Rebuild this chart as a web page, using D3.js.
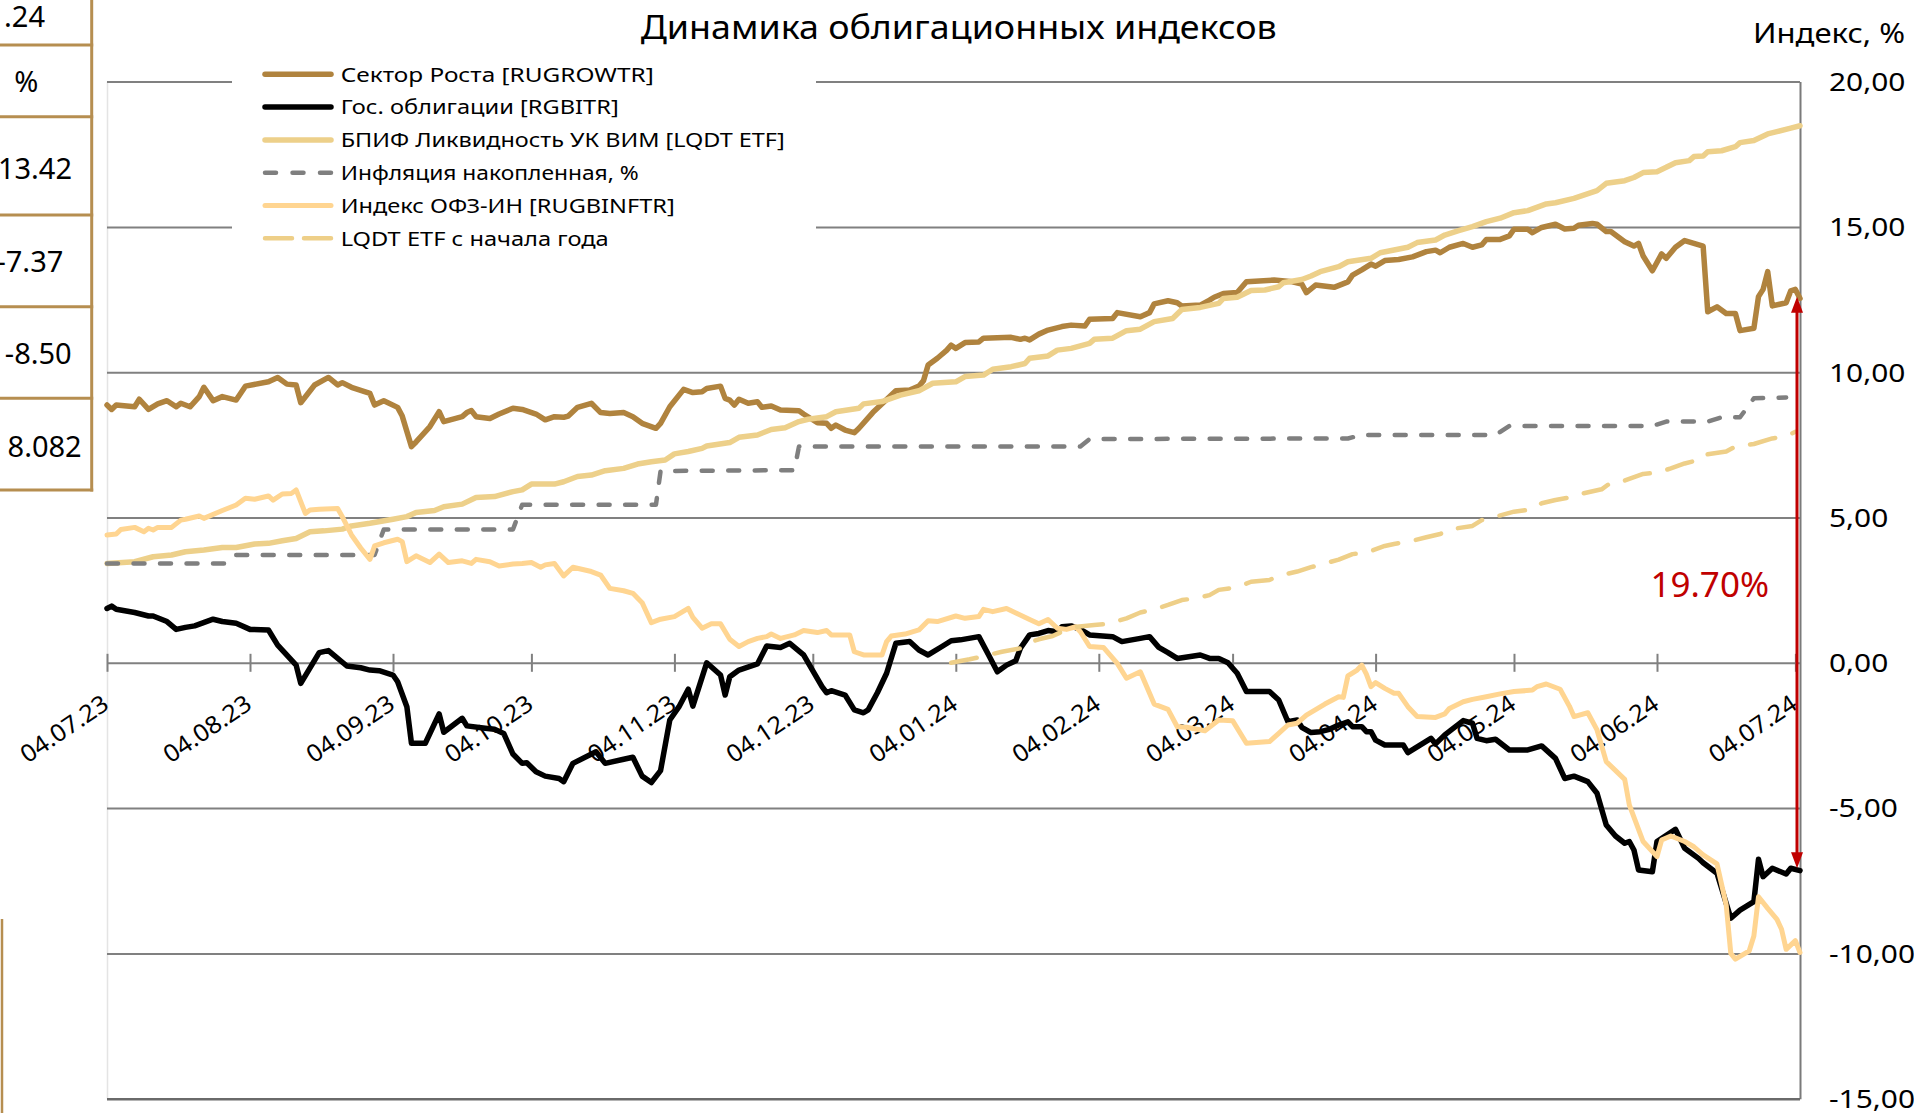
<!DOCTYPE html>
<html><head><meta charset="utf-8">
<script src="https://cdn.jsdelivr.net/npm/d3@7"></script>
<style>
html,body{margin:0;padding:0;background:#fff;overflow:hidden;}
svg{display:block;}
text{font-family:"Noto Sans",sans-serif;}
</style></head><body>
<svg id="chart" width="1914" height="1113"></svg>
<script>
// ---------------- DATA ----------------
const chartTitle = "Динамика облигационных индексов";
const yAxisTitle = "Индекс, %";
const xDomain = ["04.07.23", "05.07.24"];
const xTickLabels = ["04.07.23","04.08.23","04.09.23","04.10.23","04.11.23","04.12.23","04.01.24","04.02.24","04.03.24","04.04.24","04.05.24","04.06.24","04.07.24"];
const yTickValues = [-15, -10, -5, 0, 5, 10, 15, 20];
const seriesNames = ["Сектор Роста [RUGROWTR]", "Гос. облигации [RGBITR]", "БПИФ Ликвидность УК ВИМ [LQDT ETF]", "Инфляция накопленная, %", "Индекс ОФЗ-ИН [RUGBINFTR]", "LQDT ETF с начала года"];

const sectorGrowth = [["04.07.23",8.87],["05.07.23",8.72],["06.07.23",8.87],["10.07.23",8.81],["11.07.23",9.07],["13.07.23",8.72],["15.07.23",8.91],["17.07.23",9.02],["19.07.23",8.81],["20.07.23",8.93],["22.07.23",8.81],["24.07.23",9.16],["25.07.23",9.48],["27.07.23",9.02],["29.07.23",9.16],["01.08.23",9.04],["03.08.23",9.52],["08.08.23",9.67],["10.08.23",9.82],["12.08.23",9.59],["14.08.23",9.56],["15.08.23",8.95],["18.08.23",9.56],["21.08.23",9.82],["23.08.23",9.56],["24.08.23",9.64],["26.08.23",9.48],["30.08.23",9.27],["31.08.23",8.87],["02.09.23",9.02],["05.09.23",8.79],["06.09.23",8.49],["08.09.23",7.44],["09.09.23",7.60],["12.09.23",8.13],["14.09.23",8.64],["15.09.23",8.30],["19.09.23",8.47],["20.09.23",8.61],["21.09.23",8.68],["22.09.23",8.47],["25.09.23",8.41],["27.09.23",8.56],["30.09.23",8.76],["02.10.23",8.72],["05.10.23",8.56],["07.10.23",8.36],["09.10.23",8.47],["11.10.23",8.45],["12.10.23",8.49],["14.10.23",8.79],["17.10.23",8.93],["19.10.23",8.61],["21.10.23",8.58],["24.10.23",8.61],["26.10.23",8.47],["28.10.23",8.24],["31.10.23",8.07],["01.11.23",8.24],["03.11.23",8.81],["06.11.23",9.41],["08.11.23",9.30],["10.11.23",9.33],["11.11.23",9.44],["14.11.23",9.52],["15.11.23",9.10],["16.11.23",9.04],["17.11.23",8.87],["18.11.23",9.07],["20.11.23",8.93],["22.11.23",8.98],["23.11.23",8.79],["25.11.23",8.84],["27.11.23",8.70],["01.12.23",8.67],["02.12.23",8.56],["05.12.23",8.26],["07.12.23",8.24],["08.12.23",8.07],["09.12.23",8.18],["11.12.23",8.01],["13.12.23",7.92],["14.12.23",8.07],["17.12.23",8.61],["22.12.23",9.36],["25.12.23",9.39],["27.12.23",9.52],["28.12.23",9.71],["29.12.23",10.25],["31.12.23",10.48],["02.01.24",10.75],["03.01.24",10.93],["04.01.24",10.82],["06.01.24",11.02],["09.01.24",11.04],["10.01.24",11.17],["16.01.24",11.20],["18.01.24",11.13],["19.01.24",11.17],["20.01.24",11.11],["22.01.24",11.31],["24.01.24",11.45],["27.01.24",11.57],["29.01.24",11.62],["01.02.24",11.59],["02.02.24",11.82],["07.02.24",11.85],["08.02.24",12.05],["13.02.24",11.91],["15.02.24",12.05],["16.02.24",12.35],["19.02.24",12.46],["21.02.24",12.39],["22.02.24",12.28],["26.02.24",12.31],["28.02.24",12.48],["29.02.24",12.58],["02.03.24",12.71],["05.03.24",12.74],["07.03.24",13.11],["13.03.24",13.17],["17.03.24",13.11],["19.03.24",13.03],["20.03.24",12.74],["22.03.24",13.00],["26.03.24",12.92],["29.03.24",13.11],["30.03.24",13.34],["01.04.24",13.52],["03.04.24",13.72],["04.04.24",13.65],["06.04.24",13.84],["09.04.24",13.88],["12.04.24",13.97],["15.04.24",14.15],["17.04.24",14.20],["18.04.24",14.11],["20.04.24",14.30],["23.04.24",14.43],["25.04.24",14.30],["27.04.24",14.38],["28.04.24",14.57],["01.05.24",14.57],["03.05.24",14.69],["04.05.24",14.92],["07.05.24",14.92],["08.05.24",14.80],["10.05.24",14.98],["13.05.24",15.09],["15.05.24",14.93],["17.05.24",14.95],["18.05.24",15.06],["21.05.24",15.12],["22.05.24",15.09],["24.05.24",14.84],["25.05.24",14.84],["28.05.24",14.49],["30.05.24",14.34],["31.05.24",14.43],["01.06.24",14.00],["03.06.24",13.49],["05.06.24",14.07],["06.06.24",13.92],["08.06.24",14.30],["10.06.24",14.53],["14.06.24",14.34],["15.06.24",12.08],["17.06.24",12.25],["19.06.24",12.02],["21.06.24",12.02],["22.06.24",11.43],["25.06.24",11.51],["26.06.24",12.60],["27.06.24",12.85],["28.06.24",13.46],["29.06.24",12.28],["02.07.24",12.39],["03.07.24",12.80],["04.07.24",12.85],["05.07.24",12.54]];

const govBonds = [["04.07.23",1.87],["05.07.23",1.95],["06.07.23",1.84],["10.07.23",1.73],["13.07.23",1.61],["14.07.23",1.61],["17.07.23",1.42],["19.07.23",1.15],["21.07.23",1.22],["23.07.23",1.27],["27.07.23",1.50],["29.07.23",1.42],["01.08.23",1.36],["04.08.23",1.15],["08.08.23",1.13],["10.08.23",0.61],["14.08.23",-0.08],["15.08.23",-0.71],["19.08.23",0.35],["21.08.23",0.42],["25.08.23",-0.11],["28.08.23",-0.17],["30.08.23",-0.25],["01.09.23",-0.27],["04.09.23",-0.42],["05.09.23",-0.65],["07.09.23",-1.51],["08.09.23",-2.77],["11.09.23",-2.77],["14.09.23",-1.76],["15.09.23",-2.39],["19.09.23",-1.91],["20.09.23",-2.17],["24.09.23",-2.25],["26.09.23",-2.29],["28.09.23",-2.43],["30.09.23",-3.14],["02.10.23",-3.46],["03.10.23",-3.44],["05.10.23",-3.75],["07.10.23",-3.90],["10.10.23",-3.98],["11.10.23",-4.09],["13.10.23",-3.46],["18.10.23",-3.06],["20.10.23",-3.46],["24.10.23",-3.32],["26.10.23",-3.25],["28.10.23",-3.90],["30.10.23",-4.12],["01.11.23",-3.71],["03.11.23",-1.97],["05.11.23",-1.51],["07.11.23",-0.91],["08.11.23",-1.49],["11.11.23",0.00],["14.11.23",-0.42],["15.11.23",-1.11],["16.11.23",-0.48],["18.11.23",-0.25],["22.11.23",-0.04],["24.11.23",0.58],["27.11.23",0.53],["29.11.23",0.67],["02.12.23",0.27],["06.12.23",-0.82],["07.12.23",-1.03],["08.12.23",-0.96],["11.12.23",-1.11],["13.12.23",-1.62],["15.12.23",-1.72],["16.12.23",-1.62],["18.12.23",-1.03],["20.12.23",-0.36],["22.12.23",0.67],["25.12.23",0.73],["27.12.23",0.44],["29.12.23",0.27],["01.01.24",0.56],["03.01.24",0.76],["05.01.24",0.79],["09.01.24",0.90],["11.01.24",0.30],["13.01.24",-0.31],["15.01.24",-0.08],["17.01.24",0.07],["18.01.24",0.50],["20.01.24",0.96],["22.01.24",1.01],["24.01.24",1.11],["26.01.24",1.07],["27.01.24",1.24],["29.01.24",1.27],["31.01.24",1.15],["02.02.24",0.96],["07.02.24",0.90],["09.02.24",0.73],["13.02.24",0.84],["15.02.24",0.90],["17.02.24",0.53],["19.02.24",0.35],["21.02.24",0.15],["26.02.24",0.27],["28.02.24",0.15],["01.03.24",0.15],["03.03.24",0.00],["05.03.24",-0.36],["07.03.24",-0.99],["12.03.24",-0.99],["14.03.24",-1.28],["16.03.24",-2.03],["18.03.24",-1.97],["19.03.24",-2.22],["21.03.24",-2.40],["23.03.24",-2.37],["25.03.24",-2.29],["27.03.24",-2.14],["29.03.24",-2.03],["30.03.24",-2.20],["01.04.24",-2.20],["02.04.24",-2.37],["03.04.24",-2.37],["04.04.24",-2.66],["06.04.24",-2.83],["10.04.24",-2.83],["11.04.24",-3.09],["16.04.24",-2.60],["17.04.24",-2.79],["19.04.24",-2.48],["23.04.24",-1.99],["25.04.24",-2.08],["26.04.24",-2.60],["28.04.24",-2.68],["30.04.24",-2.63],["03.05.24",-3.00],["07.05.24",-3.00],["10.05.24",-2.86],["13.05.24",-3.29],["15.05.24",-3.98],["17.05.24",-3.90],["20.05.24",-4.09],["22.05.24",-4.49],["24.05.24",-5.58],["26.05.24",-5.96],["28.05.24",-6.21],["29.05.24",-6.15],["30.05.24",-6.44],["31.05.24",-7.13],["03.06.24",-7.19],["04.06.24",-6.15],["08.06.24",-5.73],["10.06.24",-6.38],["13.06.24",-6.73],["14.06.24",-6.88],["17.06.24",-7.24],["20.06.24",-8.79],["22.06.24",-8.51],["25.06.24",-8.22],["26.06.24",-6.76],["27.06.24",-7.36],["29.06.24",-7.07],["02.07.24",-7.27],["03.07.24",-7.07],["05.07.24",-7.15]];

const lqdtEtf = [["04.07.23",3.42],["10.07.23",3.48],["14.07.23",3.65],["18.07.23",3.71],["21.07.23",3.82],["25.07.23",3.88],["29.07.23",3.97],["01.08.23",3.97],["05.08.23",4.09],["08.08.23",4.11],["11.08.23",4.20],["14.08.23",4.28],["17.08.23",4.51],["20.08.23",4.54],["24.08.23",4.60],["26.08.23",4.71],["30.08.23",4.80],["04.09.23",4.94],["07.09.23",5.03],["09.09.23",5.17],["13.09.23",5.24],["15.09.23",5.37],["19.09.23",5.46],["22.09.23",5.69],["26.09.23",5.72],["30.09.23",5.89],["02.10.23",5.95],["04.10.23",6.15],["09.10.23",6.15],["11.10.23",6.23],["14.10.23",6.41],["17.10.23",6.46],["20.10.23",6.61],["24.10.23",6.69],["27.10.23",6.84],["30.10.23",6.92],["02.11.23",6.98],["04.11.23",7.19],["07.11.23",7.27],["10.11.23",7.38],["11.11.23",7.46],["16.11.23",7.58],["18.11.23",7.76],["22.11.23",7.84],["25.11.23",8.03],["28.11.23",8.09],["01.12.23",8.30],["03.12.23",8.38],["07.12.23",8.47],["09.12.23",8.64],["14.12.23",8.76],["15.12.23",8.91],["19.12.23",8.99],["23.12.23",9.21],["27.12.23",9.36],["30.12.23",9.62],["04.01.24",9.67],["06.01.24",9.85],["10.01.24",9.90],["12.01.24",10.10],["16.01.24",10.19],["19.01.24",10.30],["20.01.24",10.48],["24.01.24",10.56],["26.01.24",10.76],["29.01.24",10.82],["02.02.24",10.99],["03.02.24",11.13],["07.02.24",11.17],["10.02.24",11.43],["13.02.24",11.48],["16.02.24",11.74],["20.02.24",11.85],["22.02.24",12.16],["26.02.24",12.23],["01.03.24",12.37],["02.03.24",12.54],["05.03.24",12.58],["08.03.24",12.81],["11.03.24",12.83],["14.03.24",12.94],["15.03.24",13.08],["19.03.24",13.19],["21.03.24",13.31],["23.03.24",13.46],["27.03.24",13.63],["29.03.24",13.80],["03.04.24",13.92],["05.04.24",14.11],["11.04.24",14.30],["13.04.24",14.46],["17.04.24",14.55],["19.04.24",14.72],["22.04.24",14.87],["25.04.24",15.01],["28.04.24",15.18],["01.05.24",15.30],["04.05.24",15.49],["07.05.24",15.56],["11.05.24",15.79],["13.05.24",15.83],["17.05.24",15.98],["22.05.24",16.25],["24.05.24",16.50],["28.05.24",16.59],["30.05.24",16.70],["01.06.24",16.87],["04.06.24",16.90],["06.06.24",17.05],["08.06.24",17.21],["11.06.24",17.28],["12.06.24",17.42],["14.06.24",17.44],["15.06.24",17.59],["18.06.24",17.62],["21.06.24",17.76],["22.06.24",17.90],["25.06.24",17.97],["28.06.24",18.20],["30.06.24",18.28],["03.07.24",18.40],["05.07.24",18.48]];

const inflationCum = [["04.07.23",3.42],["30.07.23",3.42],["01.08.23",3.71],["31.08.23",3.71],["02.09.23",4.59],["30.09.23",4.59],["02.10.23",5.44],["31.10.23",5.44],["01.11.23",6.60],["30.11.23",6.63],["01.12.23",7.44],["31.01.24",7.44],["02.02.24",7.70],["29.03.24",7.72],["01.04.24",7.84],["30.04.24",7.84],["03.05.24",8.15],["03.06.24",8.15],["06.06.24",8.30],["15.06.24",8.30],["18.06.24",8.45],["22.06.24",8.45],["25.06.24",9.10],["02.07.24",9.13]];

const ofzIn = [["04.07.23",4.40],["06.07.23",4.43],["07.07.23",4.59],["10.07.23",4.66],["12.07.23",4.51],["13.07.23",4.63],["14.07.23",4.57],["15.07.23",4.66],["18.07.23",4.66],["20.07.23",4.91],["21.07.23",4.94],["24.07.23",5.05],["25.07.23",4.97],["29.07.23",5.24],["01.08.23",5.43],["03.08.23",5.66],["05.08.23",5.63],["08.08.23",5.74],["09.08.23",5.60],["11.08.23",5.81],["13.08.23",5.83],["14.08.23",5.95],["16.08.23",5.14],["17.08.23",5.26],["19.08.23",5.28],["23.08.23",5.31],["24.08.23",5.03],["26.08.23",4.40],["28.08.23",3.95],["30.08.23",3.56],["31.08.23",4.02],["02.09.23",4.13],["05.09.23",4.25],["06.09.23",4.17],["07.09.23",3.48],["09.09.23",3.68],["12.09.23",3.45],["14.09.23",3.74],["16.09.23",3.45],["19.09.23",3.51],["21.09.23",3.42],["22.09.23",3.56],["25.09.23",3.48],["27.09.23",3.33],["30.09.23",3.40],["02.10.23",3.42],["04.10.23",3.45],["06.10.23",3.29],["07.10.23",3.37],["09.10.23",3.42],["11.10.23",2.99],["13.10.23",3.29],["17.10.23",3.14],["19.10.23",3.02],["21.10.23",2.56],["24.10.23",2.48],["26.10.23",2.39],["28.10.23",2.07],["30.10.23",1.38],["01.11.23",1.50],["04.11.23",1.59],["07.11.23",1.87],["08.11.23",1.56],["10.11.23",1.19],["12.11.23",1.34],["14.11.23",1.34],["16.11.23",0.81],["18.11.23",0.56],["20.11.23",0.73],["22.11.23",0.84],["24.11.23",0.90],["25.11.23",0.99],["27.11.23",0.84],["30.11.23",0.96],["02.12.23",1.11],["05.12.23",1.04],["07.12.23",1.11],["08.12.23",0.96],["12.12.23",0.96],["13.12.23",0.38],["15.12.23",0.27],["19.12.23",0.27],["20.12.23",0.73],["21.12.23",0.92],["24.12.23",0.99],["27.12.23",1.13],["29.12.23",1.45],["31.12.23",1.42],["04.01.24",1.61],["06.01.24",1.53],["09.01.24",1.59],["10.01.24",1.84],["12.01.24",1.76],["15.01.24",1.87],["20.01.24",1.49],["22.01.24",1.34],["24.01.24",1.49],["26.01.24",1.19],["28.01.24",1.15],["30.01.24",1.24],["31.01.24",1.07],["02.02.24",0.56],["05.02.24",0.53],["08.02.24",-0.02],["10.02.24",-0.53],["13.02.24",-0.31],["16.02.24",-1.42],["19.02.24",-1.60],["21.02.24",-2.20],["23.02.24",-2.22],["27.02.24",-2.34],["01.03.24",-1.97],["04.03.24",-1.99],["07.03.24",-2.77],["12.03.24",-2.71],["14.03.24",-2.43],["16.03.24",-2.14],["18.03.24",-2.08],["20.03.24",-1.80],["24.03.24",-1.42],["27.03.24",-1.17],["28.03.24",-1.19],["29.03.24",-0.45],["31.03.24",-0.25],["01.04.24",-0.08],["02.04.24",-0.39],["03.04.24",-0.82],["04.04.24",-0.68],["06.04.24",-0.88],["08.04.24",-1.05],["09.04.24",-1.05],["11.04.24",-1.51],["13.04.24",-1.85],["17.04.24",-1.88],["19.04.24",-1.76],["20.04.24",-1.57],["23.04.24",-1.34],["25.04.24",-1.26],["28.04.24",-1.17],["01.05.24",-1.07],["04.05.24",-0.99],["08.05.24",-0.94],["09.05.24",-0.82],["11.05.24",-0.73],["14.05.24",-0.91],["16.05.24",-1.49],["17.05.24",-1.85],["20.05.24",-1.72],["22.05.24",-2.31],["24.05.24",-3.40],["28.05.24",-4.01],["29.05.24",-4.89],["01.06.24",-6.15],["04.06.24",-6.67],["05.06.24",-6.10],["07.06.24",-5.96],["10.06.24",-6.15],["12.06.24",-6.33],["14.06.24",-6.61],["17.06.24",-6.92],["19.06.24",-8.33],["20.06.24",-10.00],["21.06.24",-10.20],["24.06.24",-9.91],["25.06.24",-9.40],["26.06.24",-8.05],["28.06.24",-8.45],["30.06.24",-8.83],["01.07.24",-9.17],["02.07.24",-9.86],["04.07.24",-9.56],["05.07.24",-9.97]];

const lqdtYtd = [["03.01.24",0.00],["07.01.24",0.12],["10.01.24",0.23],["14.01.24",0.38],["18.01.24",0.50],["19.01.24",0.65],["22.01.24",0.81],["25.01.24",0.92],["27.01.24",1.07],["30.01.24",1.24],["03.02.24",1.30],["06.02.24",1.34],["10.02.24",1.53],["13.02.24",1.73],["16.02.24",1.84],["19.02.24",1.99],["22.02.24",2.16],["25.02.24",2.22],["28.02.24",2.33],["01.03.24",2.51],["05.03.24",2.60],["08.03.24",2.79],["12.03.24",2.85],["14.03.24",2.99],["18.03.24",3.14],["21.03.24",3.29],["24.03.24",3.42],["27.03.24",3.55],["30.03.24",3.74],["02.04.24",3.79],["06.04.24",4.02],["08.04.24",4.09],["12.04.24",4.20],["15.04.24",4.32],["18.04.24",4.43],["20.04.24",4.59],["25.04.24",4.71],["27.04.24",4.91],["30.04.24",5.03],["04.05.24",5.20],["08.05.24",5.28],["10.05.24",5.49],["13.05.24",5.60],["17.05.24",5.72],["19.05.24",5.83],["23.05.24",5.97],["25.05.24",6.20],["28.05.24",6.27],["01.06.24",6.50],["04.06.24",6.54],["07.06.24",6.69],["10.06.24",6.86],["13.06.24",6.98],["14.06.24",7.15],["19.06.24",7.27],["21.06.24",7.44],["25.06.24",7.53],["29.06.24",7.72],["02.07.24",7.80],["04.07.24",7.95]];

const spreadAnnotation = {date: "05.07.24", top: 12.6, bottom: -7.07, label: "19.70%"};
const sideTableValues = [".24", "%", "13.42", "-7.37", "-8.50", "8.082"];

// ---------------- CHART ----------------
const svg = d3.select("#chart");
const parse = d3.timeParse("%d.%m.%y");
const P = {left: 107, right: 1800, top: 81.6, bottom: 1098.7};
const x = d3.scaleTime().domain(xDomain.map(parse)).range([P.left, P.right]);
const y = d3.scaleLinear().domain([-15, 20]).range([P.bottom, P.top]);

function stretch(sel, k) {
  sel.each(function () {
    const w = this.getComputedTextLength();
    d3.select(this).attr("textLength", w * k).attr("lengthAdjust", "spacingAndGlyphs");
  });
}

const GRID = "#808080";

// faint left plot border
svg.append("line").attr("x1", P.left + 0.5).attr("x2", P.left + 0.5)
  .attr("y1", P.top).attr("y2", P.bottom).attr("stroke", "#e4e4e4").attr("stroke-width", 1.5);

// gridlines + right axis
const yAxis = d3.axisRight(y).tickValues(yTickValues)
  .tickSizeInner(-(P.right - P.left)).tickSizeOuter(0).tickPadding(29)
  .tickFormat(d => d.toFixed(2).replace(".", ","));
const gy = svg.append("g").attr("transform", `translate(${P.right},0)`).call(yAxis);
gy.select(".domain").attr("stroke", "#7a7a7a").attr("stroke-width", 2);
gy.selectAll(".tick line").attr("stroke", GRID).attr("stroke-width", 2);
gy.selectAll(".tick").filter(d => d === -15).select("line").attr("stroke", "#6a6a6a").attr("stroke-width", 2.5);
const yl = gy.selectAll(".tick text").attr("fill", "#000").attr("font-size", 24.5)
  .attr("font-family", "Noto Sans").attr("text-anchor", "start").attr("dy", "0.36em");
stretch(yl, 1.22);

// x axis
const xAxis = d3.axisBottom(x).tickValues(xTickLabels.map(parse)).tickSize(9)
  .tickFormat(d3.timeFormat("%d.%m.%y"));
const gx = svg.append("g").attr("transform", `translate(0,${y(0)})`).call(xAxis);
gx.select(".domain").remove();
gx.selectAll(".tick line").attr("y1", -9).attr("y2", 9).attr("stroke", GRID).attr("stroke-width", 2);
const xl = gx.selectAll(".tick text").attr("fill", "#000").attr("font-size", 24)
  .attr("font-family", "Noto Sans").attr("x", 0).attr("y", 0).attr("dy", null)
  .attr("text-anchor", "end").attr("transform", "translate(3,45) rotate(-34)");
stretch(xl, 1.05);

// legend
const series = [
  {name: seriesNames[0], data: sectorGrowth, color: "#B0833E", width: 5.5, dash: null},
  {name: seriesNames[1], data: govBonds, color: "#000000", width: 5.5, dash: null},
  {name: seriesNames[2], data: lqdtEtf, color: "#EDD08A", width: 5.5, dash: null},
  {name: seriesNames[3], data: inflationCum, color: "#7F7F7F", width: 4.5, dash: "11,15.5"},
  {name: seriesNames[4], data: ofzIn, color: "#FFD591", width: 5, dash: null},
  {name: seriesNames[5], data: lqdtYtd, color: "#EECF88", width: 4.5, dash: "26,18"}
];
const legendTextWidths = [313, 278, 444, 298, 334, 268];
svg.append("rect").attr("x", 232).attr("y", 52).attr("width", 584).attr("height", 205).attr("fill", "#fff");
const lg = svg.append("g");
series.forEach((s, i) => {
  const cy = 74.3 + i * 32.8;
  lg.append("line").attr("x1", 265).attr("x2", 331).attr("y1", cy).attr("y2", cy)
    .attr("stroke", s.color).attr("stroke-width", s.width).attr("stroke-linecap", "round")
    .attr("stroke-dasharray", s.dash === null ? null : (i === 3 ? "11,16.5" : "27,12"));
});
lg.selectAll("text.lt").data(series).join("text").attr("class", "lt")
  .attr("x", 340.7).attr("y", (d, i) => 74.3 + i * 32.8).attr("dy", "0.36em")
  .attr("font-size", 20.5).attr("fill", "#000").text(d => d.name)
  .attr("textLength", (d, i) => legendTextWidths[i]).attr("lengthAdjust", "spacingAndGlyphs");

// series lines
const line = d3.line().x(d => x(parse(d[0]))).y(d => y(d[1]));
svg.append("g").selectAll("path").data(series).join("path")
  .attr("d", d => line(d.data)).attr("fill", "none")
  .attr("stroke", d => d.color).attr("stroke-width", d => d.width)
  .attr("stroke-linejoin", "round").attr("stroke-linecap", "round")
  .attr("stroke-dasharray", d => d.dash);

// spread arrow
const ax = x(parse(spreadAnnotation.date)) - 3;
const yt = y(spreadAnnotation.top), yb = y(spreadAnnotation.bottom);
const RED = "#C00000";
svg.append("line").attr("x1", ax).attr("x2", ax).attr("y1", yt + 10).attr("y2", yb - 10)
  .attr("stroke", RED).attr("stroke-width", 3);
svg.append("path").attr("d", `M${ax},${yt} L${ax - 6},${yt + 16} L${ax + 6},${yt + 16} Z`).attr("fill", RED);
svg.append("path").attr("d", `M${ax},${yb} L${ax - 6},${yb - 16} L${ax + 6},${yb - 16} Z`).attr("fill", RED);
svg.append("text").attr("x", ax - 28).attr("y", 596.7).attr("text-anchor", "end")
  .attr("font-size", 35).attr("fill", RED).text(spreadAnnotation.label);

// title and axis title
svg.append("text").attr("x", 958.7).attr("y", 39.3).attr("text-anchor", "middle")
  .attr("font-size", 33.5).attr("fill", "#000").text(chartTitle)
  .attr("textLength", 636).attr("lengthAdjust", "spacingAndGlyphs");
svg.append("text").attr("x", 1753).attr("y", 42.7).attr("font-size", 27).attr("fill", "#000")
  .text(yAxisTitle).attr("textLength", 152).attr("lengthAdjust", "spacingAndGlyphs");

// side table (cut off at left edge, as in the reference)
const GOLD = "#B68E50";
const rowLines = [45, 116.7, 215, 306.7, 398.3, 490];
const rowCenters = [16.7, 82, 169, 262, 354, 447];
const rowRight = [45, 38.3, 72, 63.3, 71.7, 81.7];
const tg = svg.append("g");
tg.append("line").attr("x1", 91.7).attr("x2", 91.7).attr("y1", 0).attr("y2", 491.5).attr("stroke", GOLD).attr("stroke-width", 3);
rowLines.forEach(r => tg.append("line").attr("x1", 0).attr("x2", 93.2).attr("y1", r).attr("y2", r).attr("stroke", GOLD).attr("stroke-width", 3));
sideTableValues.forEach((v, i) => {
  tg.append("text").attr("x", rowRight[i]).attr("y", rowCenters[i]).attr("dy", "0.36em")
    .attr("text-anchor", "end").attr("font-size", 29).attr("fill", "#000").text(v);
});
tg.append("line").attr("x1", 2).attr("x2", 2).attr("y1", 919).attr("y2", 1113).attr("stroke", GOLD).attr("stroke-width", 2.5);
</script>
</body></html>
